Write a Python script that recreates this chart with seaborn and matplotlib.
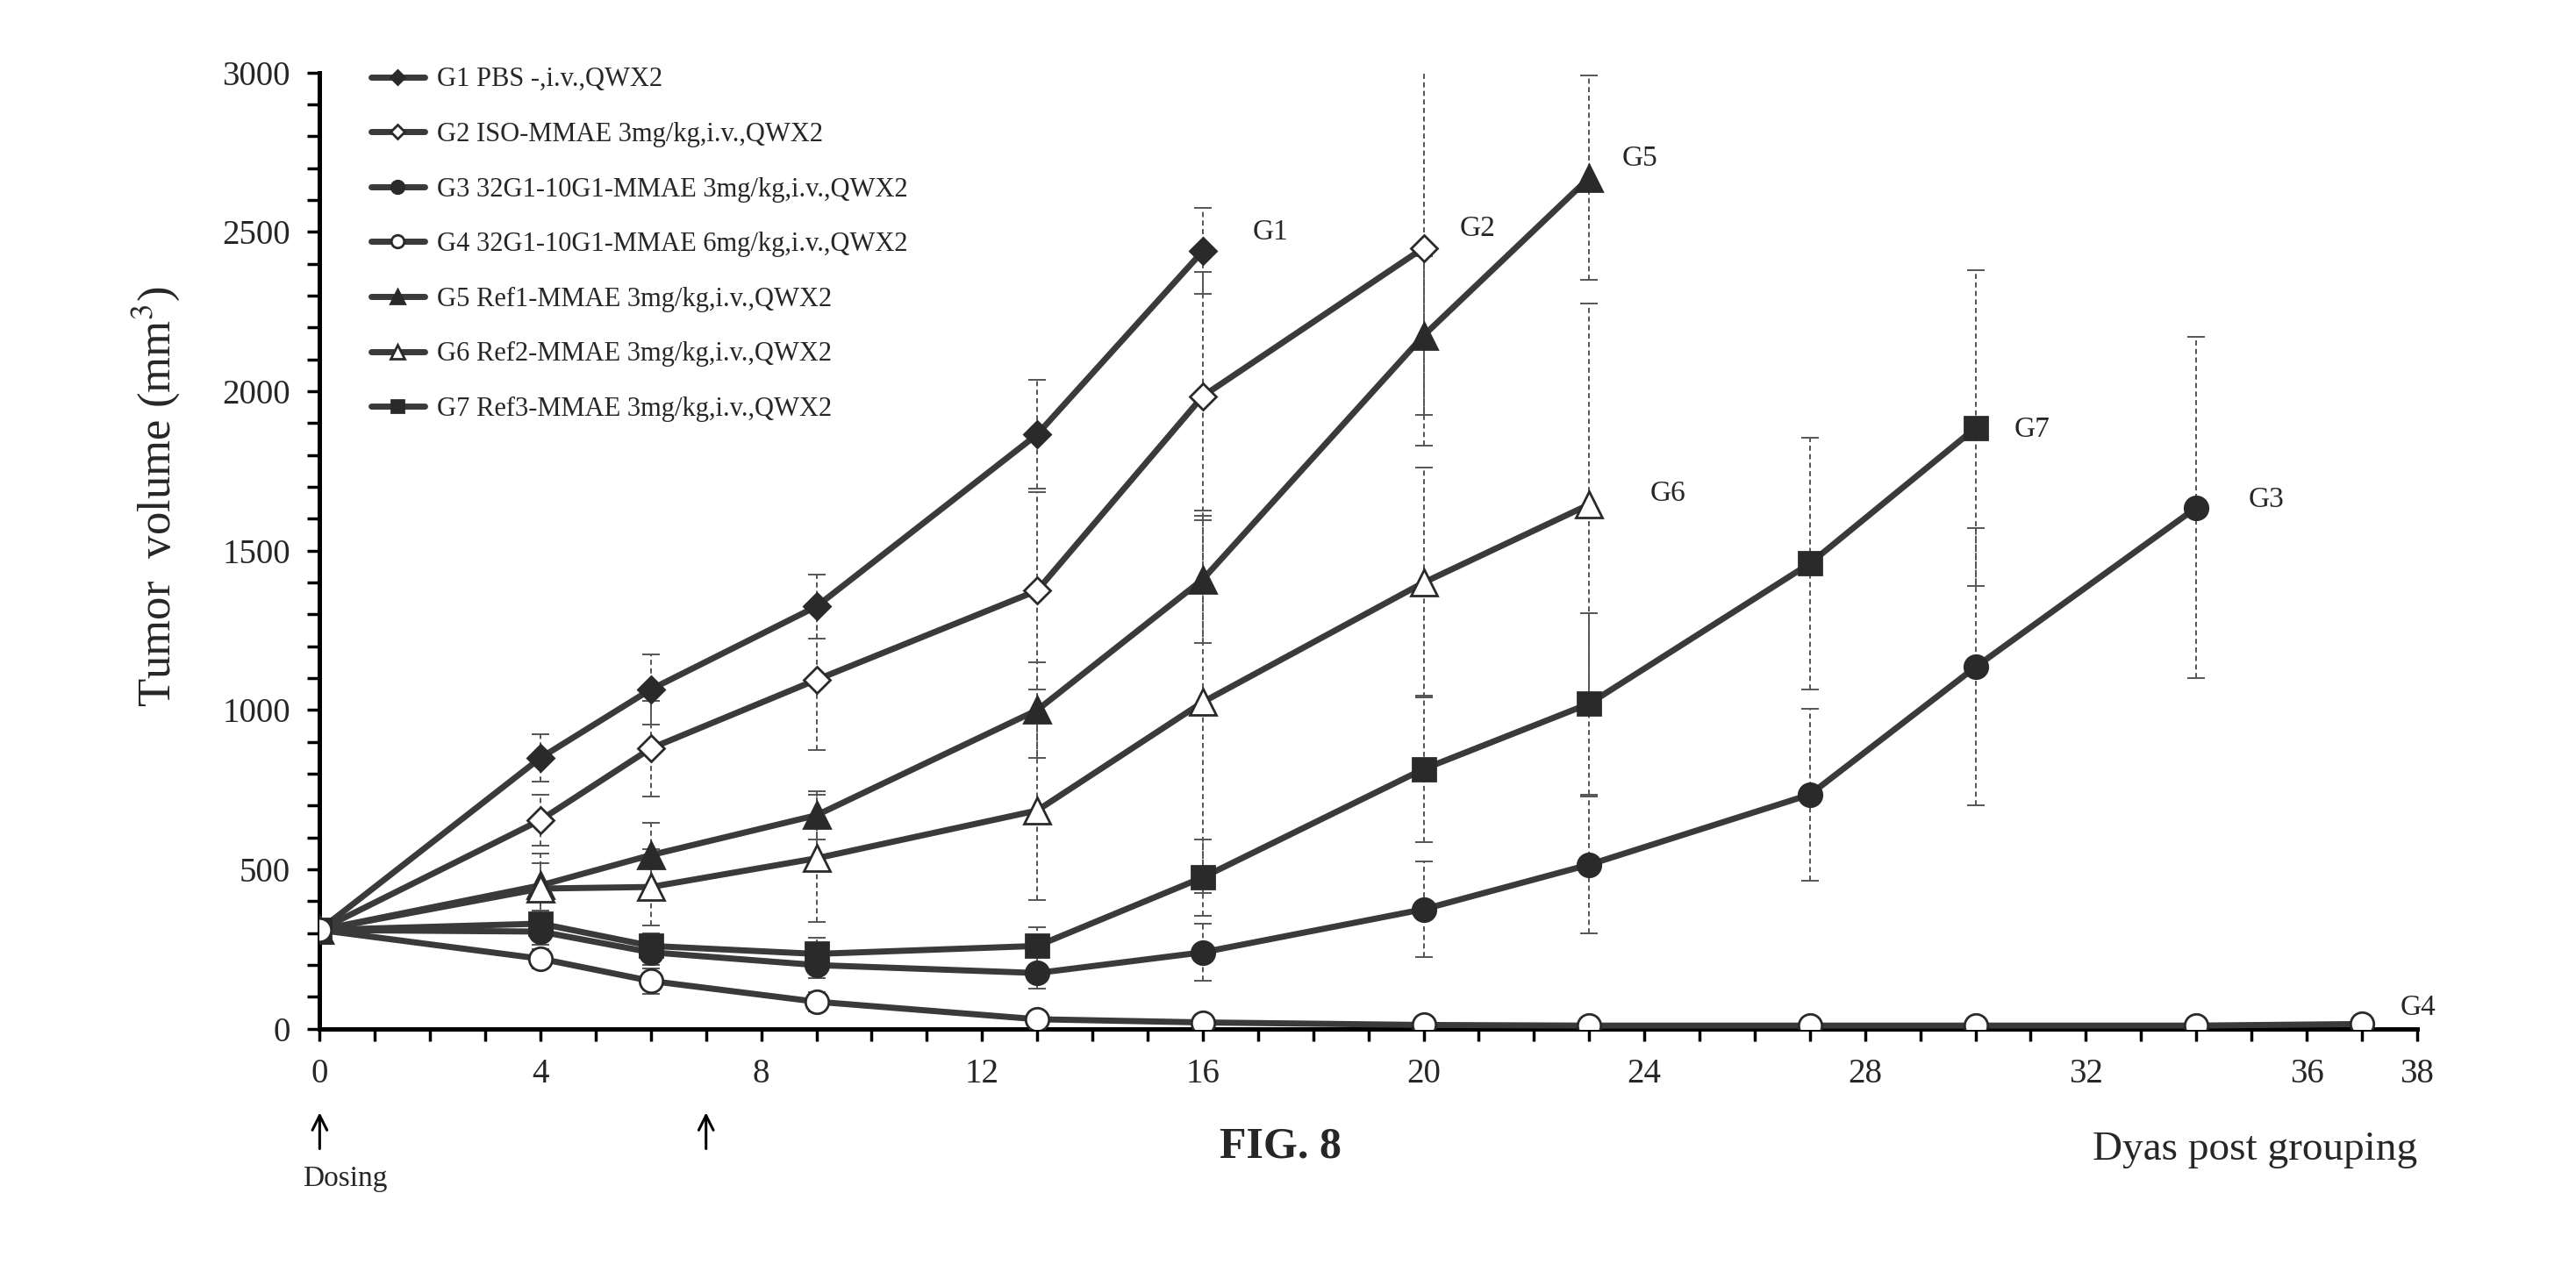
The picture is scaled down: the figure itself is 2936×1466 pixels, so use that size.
import numpy as np
import matplotlib.pyplot as plt
import pandas as pd
import seaborn as sns
from matplotlib.ticker import MultipleLocator

# tumor volume data (mean and error bar half-length)
days = [0, 4, 6, 9, 13, 16, 20, 23, 27, 30, 34, 37]

g1 = [310, 850, 1065, 1325, 1865, 2440]
g1_err = [20, 75, 110, 100, 170, 135]
g2 = [310, 655, 880, 1095, 1375, 1985, 2450]
g2_err = [20, 80, 150, 220, 310, 390, 620]
g3 = [310, 305, 240, 200, 175, 240, 375, 515, 735, 1135, 1635]
g3_err = [20, 40, 40, 40, 50, 90, 150, 215, 270, 435, 535]
g4 = [310, 220, 150, 85, 30, 20, 12, 10, 10, 10, 10, 15]
g4_err = [20, 30, 40, 30, 15, 10, 8, 5, 5, 5, 5, 5]
g5 = [310, 450, 545, 670, 1000, 1410, 2175, 2670]
g5_err = [20, 100, 100, 75, 150, 200, 250, 320]
g6 = [310, 440, 445, 535, 685, 1025, 1400, 1645]
g6_err = [20, 80, 120, 200, 280, 600, 360, 630]
g7 = [310, 330, 260, 235, 260, 475, 815, 1020, 1460, 1885]
g7_err = [20, 40, 40, 50, 60, 120, 230, 285, 395, 495]

groups = ['G1', 'G2', 'G3', 'G4', 'G5', 'G6', 'G7']
legend_labels = [
    'G1 PBS -,i.v.,QWX2',
    'G2 ISO-MMAE 3mg/kg,i.v.,QWX2',
    'G3 32G1-10G1-MMAE 3mg/kg,i.v.,QWX2',
    'G4 32G1-10G1-MMAE 6mg/kg,i.v.,QWX2',
    'G5 Ref1-MMAE 3mg/kg,i.v.,QWX2',
    'G6 Ref2-MMAE 3mg/kg,i.v.,QWX2',
    'G7 Ref3-MMAE 3mg/kg,i.v.,QWX2',
]
values = [g1, g2, g3, g4, g5, g6, g7]
errors = [g1_err, g2_err, g3_err, g4_err, g5_err, g6_err, g7_err]

# where the group names sit next to the last point
end_label_x = [16.9, 20.65, 34.95, 37.7, 23.6, 24.1, 30.7]
end_label_y = [2500, 2510, 1660, 65, 2730, 1680, 1880]

x_ticks = [0, 4, 8, 12, 16, 20, 24, 28, 32, 36, 38]

markers = ['D', 'D', 'o', 'o', '^', '^', 's']
sizes = [15, 15, 19, 19, 21, 21, 19]
filled = [True, False, True, False, True, False, True]

sns.set_style('ticks')
plt.rcParams['font.family'] = ['Liberation Serif', 'DejaVu Serif']
plt.rcParams['mathtext.fontset'] = 'stix'

fig = plt.figure(figsize=(29.36, 14.66), dpi=100)
ax = fig.add_axes([0.1241, 0.2, 0.8142, 0.7435])

line_col = '#3a3a3a'
for i, g in enumerate(groups):
    d = days[:len(values[i])]
    df = pd.DataFrame({'day': d, 'vol': values[i]})
    z = 6 if g == 'G4' else 3 + i * 0.1
    eb = ax.errorbar(d, values[i], yerr=errors[i], fmt='none', ecolor='#555555',
                     elinewidth=1.4, capsize=7, capthick=1.4, zorder=2)
    eb[2][0].set_linestyle((0, (3, 2)))
    sns.lineplot(data=df, x='day', y='vol', ax=ax, color=line_col, lw=5,
                 marker=markers[i], markersize=sizes[i],
                 markerfacecolor='#2a2a2a' if filled[i] else 'white',
                 markeredgecolor='#2a2a2a', markeredgewidth=2,
                 label=legend_labels[i], zorder=z)
    ax.text(end_label_x[i], end_label_y[i], g, fontsize=24, ha='left', va='center')

ax.set_xlim(0, 38)
ax.set_ylim(0, 3000)
ax.set_xticks(x_ticks)
ax.xaxis.set_minor_locator(MultipleLocator(1))
ax.yaxis.set_major_locator(MultipleLocator(500))
ax.yaxis.set_minor_locator(MultipleLocator(100))
ax.tick_params(axis='both', which='both', direction='out', length=10, width=2.5,
               color='black')
ax.tick_params(axis='both', which='major', labelsize=28, pad=14)
sns.despine(ax=ax)
for s in ['left', 'bottom']:
    ax.spines[s].set_linewidth(3.6)
    ax.spines[s].set_color('black')

ax.set_xlabel('')
ax.set_ylabel('Tumor  volume (mm$^3$)', fontsize=38)
ax.yaxis.set_label_coords(-0.066, 0.557)

ax.legend(loc='upper left', bbox_to_anchor=(0.018, 1.02), frameon=False,
          fontsize=22, handlelength=2.0, handletextpad=0.45, labelspacing=1.1,
          markerscale=0.55, borderpad=0)

# dosing arrows below the x axis
for dx in [0, 7]:
    ax.annotate('', xy=(dx, -0.085), xytext=(dx, -0.128),
                xycoords=('data', 'axes fraction'),
                textcoords=('data', 'axes fraction'),
                arrowprops=dict(arrowstyle='->', lw=2.2, color='black',
                                mutation_scale=30),
                annotation_clip=False)
ax.text(-0.3, -0.157, 'Dosing', transform=ax.get_xaxis_transform(),
        fontsize=24, ha='left', va='center')
ax.text(1.0, -0.127, 'Dyas post grouping', transform=ax.transAxes,
        fontsize=34, ha='right', va='center')

fig.text(0.497, 0.108, 'FIG. 8', fontsize=36, fontweight='bold',
         ha='center', va='center')

fig.savefig('out.png', dpi=100)
